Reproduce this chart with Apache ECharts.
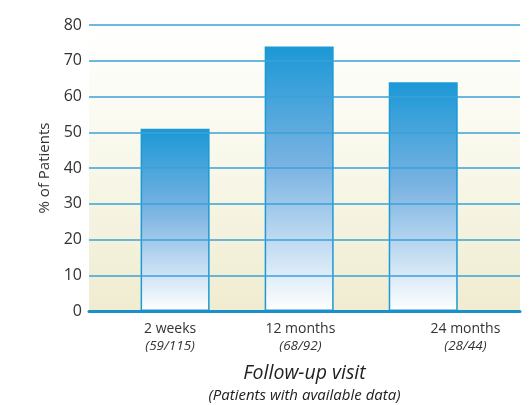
<!DOCTYPE html>
<html>
<head>
<meta charset="utf-8">
<style>
  html, body { margin: 0; padding: 0; background: #ffffff; }
  #chart { width: 531px; height: 405px; }
</style>
<script src="https://cdn.jsdelivr.net/npm/echarts@6/dist/echarts.min.js"></script>
</head>
<body>
<div id="chart"></div>
<script>
// data
const visits = ['2 weeks', '12 months', '24 months'];
const counts = ['(59/115)', '(68/92)', '(28/44)'];
const percent = [51, 74, 64];
const yTicks = [0, 10, 20, 30, 40, 50, 60, 70, 80];

const chart = echarts.init(document.getElementById('chart'));

const font = '"Open Sans", "DejaVu Sans", sans-serif';

chart.setOption({
  animation: false,
  backgroundColor: '#ffffff',
  grid: {
    left: 89,
    right: 11,
    top: 25,
    bottom: 94,
    outerBoundsMode: 'none',
    containLabel: false,
    show: true,
    borderWidth: 0,
    backgroundColor: new echarts.graphic.LinearGradient(0, 0, 0, 1, [
      { offset: 0, color: '#ffffff' },
      { offset: 0.35, color: '#fafaf0' },
      { offset: 1, color: '#f0ecd0' }
    ])
  },
  xAxis: {
    type: 'value',
    min: 0.306,
    max: 3.78,
    z: 5,
    splitLine: { show: false },
    axisTick: { show: false },
    axisLine: { show: true, lineStyle: { color: '#1a8fca', width: 3 } },
    axisLabel: {
      customValues: [0.96, 2.01, 3.34],
      margin: 9,
      formatter: function (v) {
        const i = Math.min(visits.length - 1, Math.max(0, Math.round(v) - 1));
        return '{a|' + visits[i] + '}\n{b|' + counts[i] + '}';
      },
      rich: {
        a: { fontFamily: font, fontSize: 14, color: '#333333', lineHeight: 18 },
        b: { fontFamily: font, fontSize: 13.5, fontStyle: 'italic', color: '#333333', lineHeight: 17 }
      }
    },
    name: '{t|Follow-up visit}\n{s|(Patients with available data)}',
    nameLocation: 'middle',
    nameGap: 50,
    nameTextStyle: {
      align: 'center',
      rich: {
        t: { fontFamily: font, fontSize: 19.5, fontStyle: 'italic', color: '#222222', lineHeight: 24 },
        s: { fontFamily: font, fontSize: 15, fontStyle: 'italic', color: '#222222', lineHeight: 22 }
      }
    }
  },
  yAxis: {
    type: 'value',
    min: yTicks[0],
    max: yTicks[yTicks.length - 1],
    interval: 10,
    z: 5,
    axisLine: { show: false },
    axisTick: { show: false },
    axisLabel: {
      fontFamily: font,
      fontSize: 16,
      color: '#333333',
      margin: 7
    },
    splitLine: { show: true, lineStyle: { color: '#3aa2d8', width: 1.5 } },
    name: '% of Patients',
    nameLocation: 'middle',
    nameGap: 37,
    nameTextStyle: { fontFamily: font, fontSize: 15, color: '#333333' }
  },
  series: [{
    type: 'bar',
    barWidth: 69,
    data: percent.map(function (p, i) { return [i + 1, p]; }),
    itemStyle: {
      borderColor: '#1c9ad6',
      borderWidth: 1.5,
      color: new echarts.graphic.LinearGradient(0, 0, 0, 1, [
        { offset: 0, color: '#1b98d6' },
        { offset: 0.45, color: '#7ab3e2' },
        { offset: 1, color: '#ffffff' }
      ])
    }
  }]
});
</script>
</body>
</html>
